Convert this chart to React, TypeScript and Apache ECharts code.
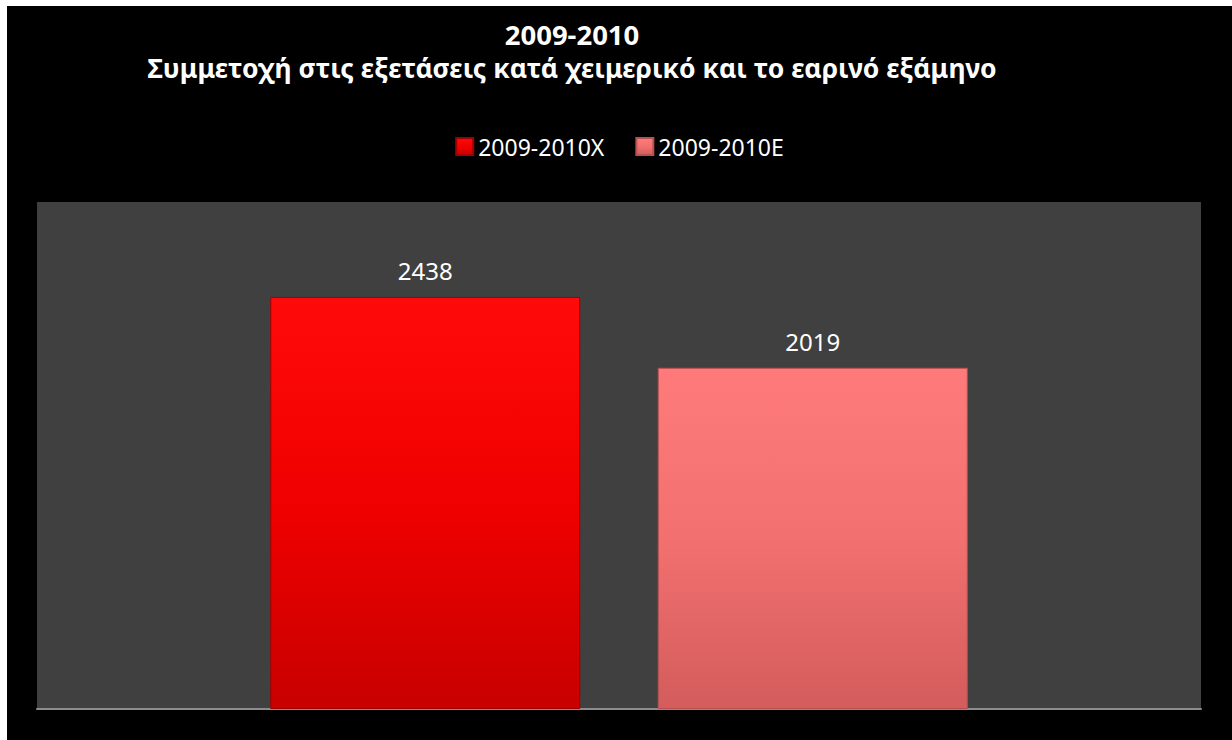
import React, { useEffect, useRef } from "react";
import * as echarts from "echarts";

const titleLines = ["2009-2010", "Συμμετοχή στις εξετάσεις κατά χειμερικό και το εαρινό εξάμηνο"];
const categories = ["2009-2010"];
const seriesNames = ["2009-2010X", "2009-2010E"];
const valuesX = [2438];
const valuesE = [2019];

export default function App() {
  const ref = useRef<HTMLDivElement>(null);
  useEffect(() => {
    if (!ref.current) return;
    const chart = echarts.init(ref.current, undefined, { renderer: "svg" });
    const font = "'Noto Sans', 'Open Sans', sans-serif";
    chart.setOption({
      animation: false,
      backgroundColor: "#000000",
      title: {
        text: "{a|" + titleLines[0] + "}\n{b|" + titleLines[1] + "}",
        left: 565,
        top: 11,
        padding: 0,
        textAlign: "center",
        textStyle: {
          color: "#ffffff",
          fontFamily: font,
          fontWeight: "bold",
          fontSize: 27,
          lineHeight: 34,
          rich: {
            a: { color: "#ffffff", fontFamily: font, fontWeight: "bold", fontSize: 27.5, lineHeight: 34 },
            b: { color: "#ffffff", fontFamily: font, fontWeight: "bold", fontSize: 26.5, lineHeight: 34 },
          },
        },
      },
      legend: {
        data: seriesNames,
        left: "center",
        top: 124,
        itemWidth: 17,
        itemHeight: 17,
        itemGap: 31,
        icon: "rect",
        textStyle: { color: "#ffffff", fontFamily: font, fontSize: 23 },
      },
      grid: {
        left: 30,
        top: 196,
        width: 1164,
        height: 507,
        show: true,
        backgroundColor: "#404040",
        borderWidth: 0,
        containLabel: false,
      },
      xAxis: {
        type: "category",
        data: categories,
        axisLine: { show: true, lineStyle: { color: "#8c8c8c", width: 2 } },
        axisTick: { show: false },
        axisLabel: { show: false },
      },
      yAxis: {
        type: "value",
        min: 0,
        max: 3000,
        show: false,
        splitLine: { show: false },
      },
      series: [
        {
          name: seriesNames[0],
          type: "bar",
          data: valuesX,
          barWidth: 310,
          barGap: "25%",
          itemStyle: {
            color: new echarts.graphic.LinearGradient(0, 0, 0, 1, [
              { offset: 0, color: "#ff0a0a" },
              { offset: 0.5, color: "#f00000" },
              { offset: 1, color: "#c80000" },
            ]),
            borderColor: "#a00000",
            borderWidth: 1,
          },
          label: {
            show: true,
            position: "top",
            distance: 14,
            color: "#ffffff",
            fontFamily: font,
            fontSize: 24,
          },
        },
        {
          name: seriesNames[1],
          type: "bar",
          data: valuesE,
          barWidth: 310,
          itemStyle: {
            color: new echarts.graphic.LinearGradient(0, 0, 0, 1, [
              { offset: 0, color: "#ff7b7b" },
              { offset: 0.5, color: "#f27070" },
              { offset: 1, color: "#d45c5c" },
            ]),
            borderColor: "#b85050",
            borderWidth: 1,
          },
          label: {
            show: true,
            position: "top",
            distance: 14,
            color: "#ffffff",
            fontFamily: font,
            fontSize: 24,
          },
        },
      ],
    });
    return () => chart.dispose();
  }, []);
  return (
    <div
      ref={ref}
      style={{ position: "fixed", left: 7, top: 6, width: 1225, height: 734 }}
    />
  );
}
